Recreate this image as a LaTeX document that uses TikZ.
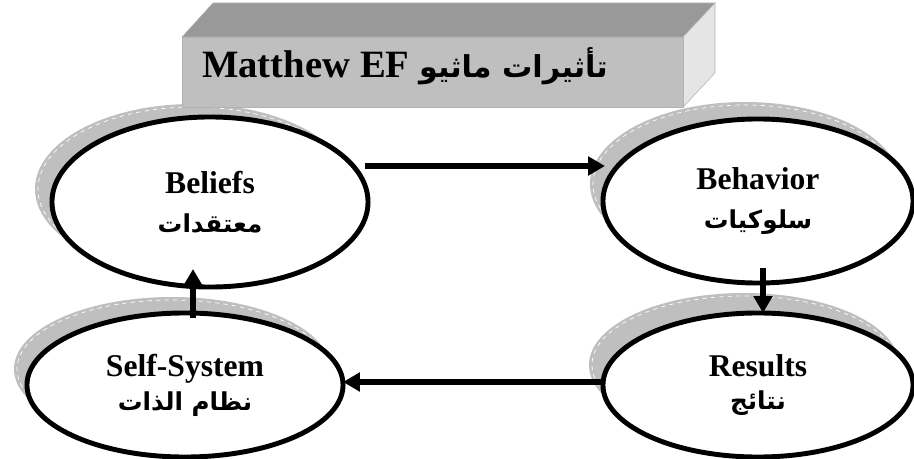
\documentclass[tikz,border=0pt]{standalone}
\usepackage{fontspec}
\setmainfont{Liberation Serif}
\newfontfamily\arabicfont[Script=Arabic,Scale=0.78]{DejaVu Sans}
\TeXXeTstate=1
\usepackage{tikz}
\usetikzlibrary{arrows.meta, calc, shapes.geometric}

\tikzset{
  stage/.style={ellipse, draw, line width=3.5pt, fill=white, inner sep=0pt, outer sep=0pt, align=center, font=\fontsize{22.5}{24}\selectfont\bfseries},
  flow/.style={line width=4pt, -{Triangle[length=12pt,width=13pt]}},
  halo/.style={fill=black!25},
  halodash/.style={draw=white, dashed, line width=0.5pt},
  face/.style={draw=black!30, line width=0.4pt}
}

\begin{document}
\begin{tikzpicture}[x=0.025cm, y=-0.025cm]
        \useasboundingbox (0,0) rectangle (914,459);

        % Shadows behind the ellipses
        \foreach \cx/\cy/\rx/\ry in {193/189/158/85, 745/184/155/82, 172/369/158/72, 744/365/155/72} {
            \fill[halo] (\cx,\cy) ellipse [x radius=\rx, y radius=\ry];
            \draw[halodash] (\cx,\cy) ellipse [x radius=\rx-3, y radius=\ry-3];
        }

        % Title block
        \filldraw[face, fill=black!40] (182,37) -- (213,3) -- (715,3) -- (683,37) -- cycle;
        \filldraw[face, fill=black!10] (683,37) -- (715,3) -- (715,73) -- (683,107) -- cycle;
        \filldraw[face, fill=black!25] (182,37) rectangle (683,107);
        \node[font=\fontsize{27.5}{30}\selectfont\bfseries] (title) at (405,66) {\beginR{\arabicfont تأثيرات ماثيو} \beginL Matthew EF\endL\endR};

        \node[stage, minimum width=7.9cm, minimum height=4.25cm] (beliefs) at (210,202) {Beliefs\\[4pt]{\arabicfont\beginR معتقدات\endR}};
        \node[stage, minimum width=7.75cm, minimum height=4.1cm] (behavior) at (758,201) {Behavior\\[4pt]{\arabicfont\beginR سلوكيات\endR}};
        \node[stage, minimum width=7.9cm, minimum height=3.6cm] (selfsys) at (185,385) {Self-System\\[0pt]{\arabicfont\beginR نظام الذات\endR}};
        \node[stage, minimum width=7.75cm, minimum height=3.6cm] (results) at (758,385) {Results\\[0pt]{\arabicfont\beginR نتائج\endR}};

        \draw[flow] ($(beliefs.center)+(155,-36)$) -- ($(behavior.center)+(-153,-35)$);
        \draw[flow] ($(behavior.center)+(5,67)$) -- ($(results.north)+(5,0)$);
        \draw[flow] ($(results.west)+(0,-3)$) -- ($(selfsys.east)+(0,-3)$);
        \draw[flow] ($(selfsys.north)+(8,5)$) -- ($(beliefs.south)+(-17,-18)$);
\end{tikzpicture}
\end{document}
